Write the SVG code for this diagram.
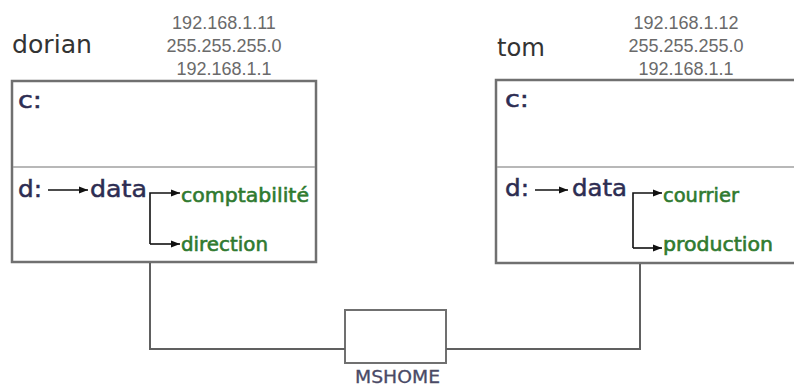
<svg xmlns="http://www.w3.org/2000/svg" width="794" height="387" viewBox="0 0 794 387">
<style>
.box{fill:#fff;stroke:#707070;stroke-width:2.5}
.div{stroke:#a0a0a0;stroke-width:1.5}
.host{font-family:"DejaVu Sans",sans-serif;font-size:25px;fill:#333}
.ip{font-family:"Liberation Sans",sans-serif;font-size:18px;fill:#6a6a6a;text-anchor:middle}
.drv{font-family:"DejaVu Sans",sans-serif;font-size:23px;fill:#2d2d52;stroke:#2d2d52;stroke-width:0.5}
.fold{font-family:"DejaVu Sans",sans-serif;font-size:20px;fill:#2f7a2f;stroke:#2f7a2f;stroke-width:0.6}
.arr{fill:none;stroke:#111;stroke-width:1.6}
.wire{fill:none;stroke:#606060;stroke-width:2}
.lbl{font-family:"DejaVu Sans",sans-serif;font-size:17px;fill:#4a4a66;stroke:#4a4a66;stroke-width:0.3}
</style>
<defs>
<marker id="ah" markerUnits="userSpaceOnUse" markerWidth="10" markerHeight="8" refX="9" refY="4" orient="auto">
<path d="M0,0.5 L9,4 L0,7.5 Z" fill="#111"/>
</marker>
</defs>
<g id="dorian">
<text class="host" x="12" y="53" textLength="80" lengthAdjust="spacingAndGlyphs">dorian</text>
<text class="ip" x="224" y="29">192.168.1.11</text>
<text class="ip" x="224" y="52">255.255.255.0</text>
<text class="ip" x="224" y="75">192.168.1.1</text>
<rect class="box" x="12" y="81" width="304" height="181"/>
<line class="div" x1="13" y1="167" x2="315" y2="167"/>
<text class="drv" x="18" y="108" textLength="24" lengthAdjust="spacingAndGlyphs">c:</text>
<text class="drv" x="18" y="197" textLength="24" lengthAdjust="spacingAndGlyphs">d:</text>
<text class="drv" x="90" y="197" textLength="57" lengthAdjust="spacingAndGlyphs">data</text>
<path class="arr" d="M48,190 H88" marker-end="url(#ah)"/>
<path class="arr" d="M150,244 V193 H180" marker-end="url(#ah)"/>
<path class="arr" d="M150,244 H180" marker-end="url(#ah)"/>
<text class="fold" x="181" y="202" textLength="128" lengthAdjust="spacingAndGlyphs">comptabilité</text>
<text class="fold" x="181" y="251" textLength="87" lengthAdjust="spacingAndGlyphs">direction</text>
</g>
<g id="tom">
<text class="host" x="497" y="56" textLength="48" lengthAdjust="spacingAndGlyphs">tom</text>
<text class="ip" x="686" y="29">192.168.1.12</text>
<text class="ip" x="686" y="52">255.255.255.0</text>
<text class="ip" x="686" y="75">192.168.1.1</text>
<rect class="box" x="496" y="80" width="330" height="183"/>
<line class="div" x1="497" y1="167" x2="794" y2="167"/>
<text class="drv" x="505" y="107" textLength="24" lengthAdjust="spacingAndGlyphs">c:</text>
<text class="drv" x="505" y="196" textLength="24" lengthAdjust="spacingAndGlyphs">d:</text>
<text class="drv" x="572" y="196" textLength="55" lengthAdjust="spacingAndGlyphs">data</text>
<path class="arr" d="M535,190 H568" marker-end="url(#ah)"/>
<path class="arr" d="M633,248 V193 H662" marker-end="url(#ah)"/>
<path class="arr" d="M633,248 H662" marker-end="url(#ah)"/>
<text class="fold" x="663" y="202" textLength="76" lengthAdjust="spacingAndGlyphs">courrier</text>
<text class="fold" x="663" y="251" textLength="110" lengthAdjust="spacingAndGlyphs">production</text>
</g>
<g id="mshome">
<rect class="box" x="345" y="310" width="101" height="53" style="stroke-width:2"/>
<text class="lbl" x="355" y="383" textLength="85" lengthAdjust="spacingAndGlyphs">MSHOME</text>
</g>
<g id="connectors">
<path class="wire" d="M150,263 V349 H345"/>
<path class="wire" d="M446,349 H640 V264"/>
</g>
</svg>
